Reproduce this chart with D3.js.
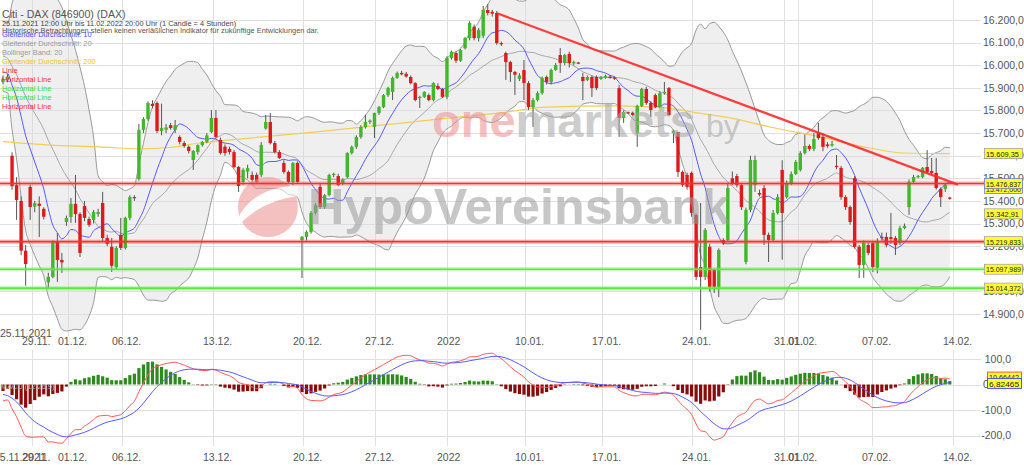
<!DOCTYPE html>
<html>
<head>
<meta charset="utf-8">
<script src="https://cdn.jsdelivr.net/npm/d3@7"></script>
<style>
  html, body { margin: 0; padding: 0; background: #fff; overflow: hidden; }
  svg { display: block; font-family: "Liberation Sans", Arial, sans-serif; }
</style>
</head>
<body>
<svg id="chart" width="1024" height="465"></svg>
<script>
// ---- 4h candles, 25.11.2021 12:00 – 11.02.2022 20:00 ----
const opens = [
15925,15935,15600,15470,15400,15180,15462,15375,15388,15365,
15040,15064,15219,15139,15307,15329,15387,15342,15378,15320,
15316,15342,15391,15236,15197,15108,15250,15192,15325,15417,
15497,15714,15762,15829,15833,15709,15715,15735,15714,15683,
15656,15639,15581,15616,15647,15661,15705,15767,15670,15640,
15630,15616,15550,15484,15530,15515,15515,15515,15720,15749,
15656,15616,15568,15528,15484,15568,15227,15241,15263,15347,
15462,15373,15426,15515,15510,15480,15506,15612,15639,15683,
15727,15749,15727,15789,15815,15868,15882,15944,15966,15962,
15948,15921,15855,15860,15868,15846,15908,15895,15860,16032,
16054,16020,16075,16120,16170,16120,16130,16244,16236,16231,
16098,16054,16014,15970,15940,15979,15921,15815,15846,15877,
15948,15926,15979,16045,16010,16050,16008,16012,15948,15935,
15948,15948,15940,15944,15950,15946,15899,15767,15792,15790,
15700,15820,15895,15833,15868,15815,15877,15899,15700,15705,
15528,15515,15524,15338,15108,15064,15197,15095,15020,15227,
15227,15500,15510,15470,15130,15360,15470,15435,15457,15250,
15227,15347,15537,15417,15479,15519,15537,15612,15643,15630,
15700,15683,15650,15645,15555,15546,15417,15373,15501,15197,
15117,15205,15214,15104,15241,15241,15240,15236,15214,15280,
15373,15484,15506,15506,15550,15532,15524,15453,15453,15415
];
const highs = [
15955,15960,15615,15505,15420,15205,15472,15400,15420,15372,
15082,15225,15258,15170,15335,15413,15515,15350,15400,15330,
15360,15365,15440,15250,15236,15200,15325,15330,15425,15425,
15740,15770,15840,15845,15840,15830,15740,15745,15758,15690,
15665,15645,15625,15650,15665,15700,15802,15802,15680,15650,
15640,15625,15555,15545,15560,15530,15525,15660,15780,15789,
15665,15625,15580,15535,15572,15575,15245,15270,15355,15390,
15480,15430,15520,15525,15520,15500,15615,15645,15690,15735,
15780,15760,15790,15820,15872,15905,15950,15972,15975,15970,
15955,15925,15865,15885,15875,15925,15920,15900,16040,16065,
16060,16072,16125,16195,16180,16165,16262,16270,16245,16240,
16105,16060,16020,15975,15965,16023,15930,15855,15885,15950,
15955,15985,16010,16076,16050,16060,16020,16015,15966,15955,
15955,15955,15952,15958,15955,15950,15913,15800,15795,15795,
15825,15900,15905,15840,15875,15885,15926,15904,15715,15705,
15535,15525,15530,15345,15391,15280,15210,15100,15190,15235,
15480,15530,15520,15480,15370,15600,15600,15450,15470,15260,
15360,15430,15580,15490,15530,15580,15620,15692,15650,15700,
15745,15700,15660,15665,15603,15555,15425,15380,15510,15205,
15225,15215,15220,15235,15260,15260,15347,15245,15290,15300,
15495,15515,15515,15550,15625,15590,15590,15460,15480,15418
];
const lows = [
15915,15925,15450,15316,15160,15025,15316,15350,15240,15318,
15015,15058,15042,15082,15290,15303,15303,15152,15310,15285,
15300,15330,15219,15200,15086,15095,15183,15185,15315,15400,
15490,15700,15755,15810,15700,15690,15700,15715,15700,15650,
15635,15610,15537,15605,15640,15655,15700,15675,15605,15600,
15605,15545,15440,15470,15500,15485,15475,15505,15715,15650,
15610,15585,15520,15475,15470,15480,15059,15225,15255,15340,
15365,15365,15420,15505,15465,15470,15500,15605,15630,15675,
15720,15740,15678,15780,15810,15860,15846,15940,15955,15945,
15915,15840,15811,15855,15840,15840,15890,15855,15850,16025,
16010,16015,16070,16110,16110,16105,16120,16220,16215,16090,
16085,15935,15926,15868,15930,15846,15802,15727,15840,15870,
15915,15915,15975,15966,16000,15990,16000,16005,15846,15930,
15860,15890,15935,15940,15940,15935,15683,15745,15785,15775,
15639,15815,15825,15771,15810,15810,15870,15775,15656,15506,
15462,15450,15330,15050,14830,15050,15000,14993,14975,15205,
15220,15470,15460,15360,15120,15350,15440,15420,15205,15130,
15220,15340,15140,15410,15470,15515,15530,15605,15620,15620,
15670,15620,15635,15640,15540,15405,15360,15295,15190,15059,
15060,15160,15086,15080,15225,15195,15210,15161,15205,15275,
15338,15480,15500,15500,15520,15515,15450,15373,15440,15405
];
const closes = [
15940,15950,15465,15404,15180,15121,15373,15390,15378,15330,
15064,15219,15139,15128,15325,15387,15342,15170,15325,15294,
15351,15351,15236,15210,15113,15192,15192,15325,15417,15413,
15714,15762,15833,15820,15709,15723,15725,15722,15735,15661,
15643,15621,15621,15647,15661,15690,15767,15683,15612,15612,
15616,15550,15466,15537,15545,15493,15484,15647,15749,15656,
15616,15590,15528,15484,15568,15484,15241,15263,15347,15382,
15373,15426,15515,15520,15471,15495,15612,15639,15683,15727,
15749,15755,15789,15815,15868,15899,15944,15966,15960,15950,
15921,15846,15860,15882,15846,15921,15895,15860,16032,16059,
16020,16067,16120,16187,16120,16156,16244,16231,16228,16098,
16093,16014,15970,15958,15955,15921,15815,15846,15877,15944,
15926,15979,16001,16010,16045,16010,16014,16008,15930,15948,
15899,15899,15948,15953,15944,15940,15767,15793,15788,15780,
15820,15895,15833,15802,15815,15877,15882,15780,15709,15528,
15471,15462,15347,15064,15064,15272,15020,15020,15183,15214,
15457,15479,15470,15373,15360,15581,15581,15428,15250,15227,
15347,15417,15347,15479,15519,15572,15612,15643,15630,15674,
15678,15639,15643,15652,15550,15417,15373,15307,15197,15117,
15214,15170,15108,15219,15236,15205,15232,15205,15280,15290,
15484,15506,15510,15546,15528,15524,15457,15417,15471,15410
];
// closes of the candles before the window, used only for the averages
const leadCloses = [16150,16180,16120,16160,16100,16130,16090,16060,16080,16040,
                    16010,15990,15960,16000,15980,15950,15970,15940,15960];
// EMA(12), EMA(26) and signal levels entering the window
const macdSeed = [15962, 16030, -33];

// 200-period average, read at candle positions
const sma200Idx = [0,10.4,21.4,30.2,36.2,43.5,54.5,69.3,83.9,98.7,109.7,120.1,134.7,146.6,153.2,160.5,169.3,180.4,191.4,198.7,209];
const sma200Val = [15662,15647,15639,15630,15635,15656,15678,15705,15736,15767,15789,15815,15820,15810,15789,15767,15727,15683,15634,15612,15609.35];

// drawn lines
const hLineValues = [15476.837, 15219.833, 15097.989, 15014.372];
const hLineKinds  = ["red", "red", "green", "green"];
const trendIdx = [109.05, 210.8];
const trendVal = [16230, 15472];

// axes
const priceTicks = [14900,15000,15100,15200,15300,15400,15500,15600,15700,15800,15900,16000,16100,16200];
const macdTicks = [100, 0, -100, -200];
const dateLabels = ["29.11.","01.12.","06.12.","13.12.","20.12.","27.12.","2022","10.01.","17.01.","24.01.","31.01.","01.02.","07.02.","14.02."];
const dateIdx    = [6.4,14.35,26.27,46.36,66.23,82.12,98.01,115.23,132.23,152.1,172.4,175.5,191.8,209.7];

// value tags on the right edge
const tagTexts = ["15.609,35","15.342,91","15.219,833","15.097,989","15.014,372"];
const tagValues = [15609.35, 15342.91, 15219.833, 15097.989, 15014.372];
const macdTagText = "10,66442";
const signalTagText = "6,82465";

const legendTexts = ["Gleitender Durchschnitt: 10","Gleitender Durchschnitt: 20","Bollinger Band: 20",
  "Gleitender Durchschnitt: 200","Linie","Horizontal Line","Horizontal Line","Horizontal Line","Horizontal Line"];
const legendColors = ["#4a4aff","#9a9a9a","#9a9a9a","#f0c419","#ff2a2a","#ff2a2a","#2fe02f","#2fe02f","#ff2a2a"];

// ---------------------------------------------------------------
const svg = d3.select("#chart");
const x = d3.scaleLinear().domain([0, 209]).range([3, 949.8]);
const y = d3.scaleLinear().domain([14900, 16200]).range([314, 20]);
const ym = d3.scaleLinear().domain([-200, 100]).range([435.5, 359]);
const grid = "#e0e0e0";

function fmtDE(v, d) {
  const neg = v < 0; const s = Math.abs(v).toFixed(d).split(".");
  s[0] = s[0].replace(/\B(?=(\d{3})+(?!\d))/g, ".");
  return (neg ? "-" : "") + s.join(",");
}

// indicators from the closes
const all = leadCloses.concat(closes);
const L = leadCloses.length;
function win(k, n) { return all.slice(Math.max(0, k - n + 1), k + 1); }
const sma10 = closes.map((c, i) => d3.mean(win(L + i, 10)));
const boll = closes.map((c, i) => {
  const w = win(L + i, 20); const m = d3.mean(w);
  const sd = Math.sqrt(d3.mean(w.map(v => (v - m) * (v - m))));
  return { i, m, up: m + 2 * sd, lo: m - 2 * sd };
});
let ef = macdSeed[0], es = macdSeed[1], sg = macdSeed[2];
const macd = [], signal = [];
closes.forEach(c => {
  ef += (c - ef) * 2 / 13; es += (c - es) * 2 / 27;
  const m = ef - es; sg += (m - sg) * 2 / 10;
  macd.push(m); signal.push(sg);
});

const defs = svg.append("defs");
defs.append("clipPath").attr("id", "clipMain").append("rect").attr("x", 0).attr("y", 0).attr("width", 958).attr("height", 338);
defs.append("clipPath").attr("id", "clipMacd").append("rect").attr("x", 0).attr("y", 348).attr("width", 958).attr("height", 100);

// ---- grid ----
const g = svg.append("g");
g.selectAll(".hg").data(priceTicks).join("line")
  .attr("x1", 0).attr("x2", 981).attr("y1", d => Math.round(y(d)) + 0.5).attr("y2", d => Math.round(y(d)) + 0.5)
  .attr("stroke", grid);
g.selectAll(".vg").data(dateIdx).join("line")
  .attr("x1", d => Math.round(x(d)) + 0.5).attr("x2", d => Math.round(x(d)) + 0.5)
  .attr("y1", 0).attr("y2", 336).attr("stroke", grid);
g.selectAll(".vgm").data(dateIdx).join("line")
  .attr("x1", d => Math.round(x(d)) + 0.5).attr("x2", d => Math.round(x(d)) + 0.5)
  .attr("y1", 350).attr("y2", 446).attr("stroke", grid);
g.selectAll(".mg").data(macdTicks).join("line")
  .attr("x1", 0).attr("x2", 981).attr("y1", d => Math.round(ym(d)) + 0.5).attr("y2", d => Math.round(ym(d)) + 0.5)
  .attr("stroke", grid);

// ---- main panel ----
const main = svg.append("g").attr("clip-path", "url(#clipMain)");
main.append("path").datum(boll)
  .attr("d", d3.area().x(d => x(d.i)).y0(d => y(d.lo)).y1(d => y(d.up)).curve(d3.curveMonotoneX))
  .attr("fill", "#d8d8d8").attr("fill-opacity", 0.42);

// watermark
const wm = svg.append("g").attr("opacity", 0.55);
wm.append("circle").attr("cx", 268).attr("cy", 207).attr("r", 30).attr("fill", "#ee8e8e");
wm.append("path").attr("d", "M238,226 Q262,200 299,196 L298,186 Q258,186 240,214 Z").attr("fill", "#fff");
wm.append("text").attr("x", 308).attr("y", 224).attr("font-size", 50).attr("font-weight", "bold")
  .attr("textLength", 422).attr("lengthAdjust", "spacingAndGlyphs").attr("fill", "#9a9a9a").text("HypoVereinsbank");
const wt = wm.append("text").attr("x", 432).attr("y", 137).attr("font-size", 47).attr("font-weight", "bold");
wt.append("tspan").attr("fill", "#ee8e8e").text("one");
wt.append("tspan").attr("fill", "#a6a6a6").text("markets");
wm.append("text").attr("x", 706).attr("y", 137).attr("font-size", 32).attr("fill", "#a6a6a6").text("by");

const lineI = (acc) => d3.line().x((d, i) => x(i)).y(acc).curve(d3.curveMonotoneX);
main.append("path").datum(boll).attr("d", d3.line().x(d => x(d.i)).y(d => y(d.up)).curve(d3.curveMonotoneX))
  .attr("fill", "none").attr("stroke", "#999").attr("stroke-width", 1);
main.append("path").datum(boll).attr("d", d3.line().x(d => x(d.i)).y(d => y(d.lo)).curve(d3.curveMonotoneX))
  .attr("fill", "none").attr("stroke", "#999").attr("stroke-width", 1);
main.append("path").datum(boll).attr("d", d3.line().x(d => x(d.i)).y(d => y(d.m)).curve(d3.curveMonotoneX))
  .attr("fill", "none").attr("stroke", "#a8a8a8").attr("stroke-width", 1);
main.append("path").datum(sma200Idx.map((d, k) => [d, sma200Val[k]]))
  .attr("d", d3.line().x(d => x(d[0])).y(d => y(d[1])).curve(d3.curveMonotoneX))
  .attr("fill", "none").attr("stroke", "#f3cd55").attr("stroke-width", 1.2);
main.append("path").datum(sma10).attr("d", lineI(d => y(d)))
  .attr("fill", "none").attr("stroke", "#5757ff").attr("stroke-width", 1);

// candles
const cg = main.append("g");
closes.forEach((c, i) => {
  const o = opens[i], up = c >= o, cx = x(i);
  cg.append("line").attr("x1", cx).attr("x2", cx).attr("y1", y(highs[i])).attr("y2", y(lows[i]))
    .attr("stroke", "#555").attr("stroke-width", 1);
  const top = y(Math.max(o, c)), h = Math.max(1.2, Math.abs(y(o) - y(c)));
  cg.append("rect").attr("x", cx - 1.7).attr("y", top).attr("width", 3.4).attr("height", h)
    .attr("fill", up ? "#3fb829" : "#e01a1a");
});

// horizontal lines
const hl = svg.append("g");
hLineValues.forEach((v, k) => {
  const col = hLineKinds[k] === "red" ? "#ff2e2e" : "#55ee35";
  const halo = hLineKinds[k] === "red" ? "rgba(255,60,60,0.28)" : "rgba(90,240,60,0.3)";
  hl.append("line").attr("x1", 0).attr("x2", 984).attr("y1", y(v)).attr("y2", y(v)).attr("stroke", halo).attr("stroke-width", 4.5);
  hl.append("line").attr("x1", 0).attr("x2", 984).attr("y1", y(v)).attr("y2", y(v)).attr("stroke", col).attr("stroke-width", 1.6);
});
// trend line
svg.append("line").attr("x1", x(trendIdx[0])).attr("y1", y(trendVal[0])).attr("x2", x(trendIdx[1])).attr("y2", y(trendVal[1]))
  .attr("stroke", "#ff2a2a").attr("stroke-width", 2.2).attr("opacity", 0.9);

// price axis labels
svg.append("g").selectAll("text").data(priceTicks).join("text")
  .attr("x", 983).attr("y", d => y(d) + 3.8).attr("font-size", 10.5).attr("fill", "#555")
  .text(d => fmtDE(d, 1));

// value tags
function tag(yc, txt, stroke) {
  const t = svg.append("g");
  t.append("rect").attr("x", 984.5).attr("y", yc - 5).attr("width", 38).attr("height", 10)
    .attr("fill", "#ffff2e").attr("stroke", stroke).attr("stroke-width", 0.7);
  t.append("text").attr("x", 986).attr("y", yc + 3).attr("font-size", 7.6).attr("fill", "#222")
    .attr("textLength", txt.length > 9 ? 35 : 33).attr("lengthAdjust", "spacingAndGlyphs").text(txt);
}
tag(y(trendVal[1]) + 4, fmtDE(trendVal[1], 3), "#6b6bd0");
tag(y(hLineValues[0]), fmtDE(hLineValues[0], 3), "#6b6bd0");
tagTexts.forEach((t, k) => tag(y(tagValues[k]), t, "#999"));

// legend
const lg = svg.append("g");
lg.append("text").attr("x", 2).attr("y", 18).attr("font-size", 10.6).attr("fill", "#555").text("Citi - DAX (846900) (DAX)");
lg.append("text").attr("x", 2).attr("y", 26).attr("font-size", 7.4).attr("fill", "#444")
  .text("25.11.2021 12:00 Uhr bis 11.02.2022 20:00 Uhr (1 Candle = 4 Stunden)");
lg.append("text").attr("x", 2).attr("y", 33.2).attr("font-size", 7.4).attr("fill", "#555")
  .text("Historische Betrachtungen stellen keinen verläßlichen Indikator für zukünftige Entwicklungen dar.");
legendTexts.forEach((t, k) => {
  lg.append("text").attr("x", 2).attr("y", 37 + k * 9.05).attr("font-size", 7.4).attr("fill", legendColors[k]).text(t);
});

// ---- MACD panel ----
const mp = svg.append("g").attr("clip-path", "url(#clipMacd)");
mp.selectAll("rect").data(macd.map((m, i) => ({ i, h: m - signal[i] }))).join("rect")
  .attr("x", d => x(d.i) - 1.6).attr("width", 3.2)
  .attr("y", d => Math.min(ym(0), ym(d.h))).attr("height", d => Math.abs(ym(d.h) - ym(0)))
  .attr("fill", d => d.h >= 0 ? "#2e8a1e" : "#8a0b0b");
mp.append("path").datum(macd).attr("d", lineI(d => ym(d))).attr("fill", "none").attr("stroke", "#ff5a5a").attr("stroke-width", 1);
mp.append("path").datum(signal).attr("d", lineI(d => ym(d))).attr("fill", "none").attr("stroke", "#5a5aff").attr("stroke-width", 1);

svg.append("text").attr("x", 1).attr("y", 389).attr("font-size", 7.4).attr("fill", "#bbb").text("MACD (12,26,9)");
svg.append("g").selectAll("text").data(macdTicks).join("text")
  .attr("x", d => d === 0 ? 983 : 1011).attr("text-anchor", d => d === 0 ? "start" : "end")
  .attr("y", d => ym(d) + 3.8).attr("font-size", 10.5).attr("fill", "#555").text(d => fmtDE(d, d === 0 ? 0 : 1));
function mtag(yc, txt, stroke) {
  const t = svg.append("g");
  t.append("rect").attr("x", 987.5).attr("y", yc - 5).attr("width", 34).attr("height", 10)
    .attr("fill", "#ffff2e").attr("stroke", stroke).attr("stroke-width", 0.9);
  t.append("text").attr("x", 989).attr("y", yc + 3).attr("font-size", 7.6).attr("fill", "#222")
    .attr("textLength", 30).attr("lengthAdjust", "spacingAndGlyphs").text(txt);
}
mtag(ym(macd[macd.length - 1]) - 2, macdTagText, "#ff4040");
mtag(ym(signal[signal.length - 1]) + 1, signalTagText, "#4848ff");

// date labels, top and bottom rows
const dl = svg.append("g").attr("font-size", 10.5).attr("fill", "#555");
[345, 461].forEach(yy => {
  dl.selectAll(null).data(dateLabels).join("text")
    .attr("x", (d, k) => x(dateIdx[k]) - 10).attr("y", yy).text(d => d);
});
dl.append("text").attr("x", 0).attr("y", 337).text("25.11.2021");
dl.append("text").attr("x", -6).attr("y", 461).text("25.11.2021");
</script>
</body>
</html>
